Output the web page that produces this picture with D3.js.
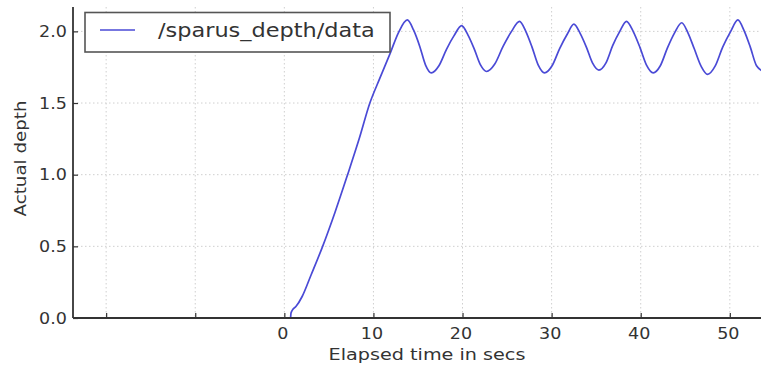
<!DOCTYPE html>
<html>
<head>
<meta charset="utf-8">
<script src="https://cdn.jsdelivr.net/npm/d3@7/dist/d3.min.js"></script>
<style>
  html, body { margin: 0; padding: 0; background: #fff; }
  svg { display: block; font-family: "DejaVu Sans", sans-serif; }
</style>
</head>
<body>
<svg id="chart" width="761" height="371"></svg>
<script>
// ---- data ----
const seriesName = "/sparus_depth/data";
const xLabel = "Elapsed time in secs";
const yLabel = "Actual depth";
const xTicks = [-20, -10, 0, 10, 20, 30, 40, 50];
const xTickLabels = ["", "", "0", "10", "20", "30", "40", "50"];
const yTicks = [0.0, 0.5, 1.0, 1.5, 2.0];
const yTickLabels = ["0.0", "0.5", "1.0", "1.5", "2.0"];
const xDomain = [-23.72, 53.5];
const yDomain = [0, 2.17];

const time = [
  0.7, 0.75, 0.9, 1.3, 2.0, 3.0, 4.3, 5.7, 7.1, 8.4, 9.6, 10.7, 11.9, 12.8, 13.8,
  14.5, 15.2, 15.85, 16.5,
  17.35, 18.2, 19.05, 19.9,
  20.6, 21.3, 22.0, 22.7,
  23.6, 24.55, 25.5, 26.4,
  27.1, 27.8, 28.5, 29.2,
  30.05, 30.9, 31.75, 32.5,
  33.2, 33.9, 34.6, 35.3,
  36.1, 36.85, 37.65, 38.4,
  39.15, 39.9, 40.65, 41.4,
  42.2, 43.0, 43.8, 44.6,
  45.3, 46.0, 46.8, 47.5,
  48.35, 49.2, 50.1, 50.9,
  51.6, 52.3, 53.0, 53.8
];
const depth = [
  0.0, 0.035, 0.055, 0.08, 0.15, 0.30, 0.50, 0.74, 1.0, 1.25, 1.5, 1.67, 1.85, 1.99, 2.08,
  2.01, 1.895, 1.765, 1.71,
  1.76, 1.875, 1.97, 2.04,
  1.976, 1.88, 1.768, 1.72,
  1.77, 1.895, 2.0, 2.07,
  2.0, 1.89, 1.764, 1.71,
  1.76, 1.88, 1.98, 2.05,
  1.986, 1.89, 1.778, 1.73,
  1.78, 1.90, 2.0, 2.07,
  2.0, 1.89, 1.764, 1.71,
  1.76, 1.885, 1.99, 2.06,
  1.99, 1.88, 1.754, 1.70,
  1.757, 1.89, 2.0, 2.08,
  2.005, 1.89, 1.76, 1.72
];

// ---- layout ----
const svg = d3.select("#chart");
const mLeft = 73, mRight = 761, mTop = 7, mBottom = 318;
const x = d3.scaleLinear().domain(xDomain).range([mLeft, mRight]);
const y = d3.scaleLinear().domain(yDomain).range([mBottom, mTop]);
const textColor = "#333";
const stretch = 1.17;

// grid
const grid = svg.append("g");
grid.selectAll("line.vx").data(xTicks).join("line")
  .attr("x1", d => x(d)).attr("x2", d => x(d))
  .attr("y1", mTop).attr("y2", mBottom)
  .attr("stroke", "#cfcfcf").attr("stroke-width", 1).attr("stroke-dasharray", "1.5,2.5");
grid.selectAll("line.hy").data(yTicks).join("line")
  .attr("x1", mLeft).attr("x2", mRight)
  .attr("y1", d => y(d)).attr("y2", d => y(d))
  .attr("stroke", "#cfcfcf").attr("stroke-width", 1).attr("stroke-dasharray", "1.5,2.5");

// clip
svg.append("clipPath").attr("id", "clip").append("rect")
  .attr("x", mLeft).attr("y", mTop - 3).attr("width", mRight - mLeft).attr("height", mBottom - mTop + 3);

// line
const pts = time.map((t, i) => [t, depth[i]]);
svg.append("path")
  .datum(pts)
  .attr("clip-path", "url(#clip)")
  .attr("fill", "none")
  .attr("stroke", "#4a4ad6")
  .attr("stroke-width", 1.7)
  .attr("stroke-linejoin", "round")
  .attr("d", d3.line().x(d => x(d[0])).y(d => y(d[1])).curve(d3.curveMonotoneX));

// axes via d3 axis
const xAxis = d3.axisBottom(x).tickValues(xTicks).tickSize(-5).tickPadding(0).tickFormat(() => "");
const gx = svg.append("g").attr("transform", `translate(0,${mBottom})`).call(xAxis);
gx.select(".domain").remove();
gx.selectAll(".tick line").attr("stroke", "#333").attr("stroke-width", 1.2);

const yAxis = d3.axisLeft(y).tickValues(yTicks).tickSize(-5).tickPadding(0).tickFormat(() => "");
const gy = svg.append("g").attr("transform", `translate(${mLeft},0)`).call(yAxis);
gy.select(".domain").remove();
gy.selectAll(".tick line").attr("stroke", "#333").attr("stroke-width", 1.2);

// spines
svg.append("line").attr("x1", mLeft).attr("x2", mLeft).attr("y1", mTop).attr("y2", mBottom)
  .attr("stroke", "#333").attr("stroke-width", 1.8);
svg.append("line").attr("x1", mLeft).attr("x2", mRight).attr("y1", mBottom).attr("y2", mBottom)
  .attr("stroke", "#333").attr("stroke-width", 1.8);

// tick labels (stretched horizontally)
svg.append("g").selectAll("text").data(xTicks.map((t, i) => [t, xTickLabels[i]]).filter(d => d[1] !== ""))
  .join("text")
  .attr("transform", d => `translate(${x(d[0]) - 1.5},339) scale(${stretch},1)`)
  .attr("text-anchor", "middle").attr("font-size", 15).attr("fill", textColor)
  .text(d => d[1]);

svg.append("g").selectAll("text").data(yTicks.map((t, i) => [t, yTickLabels[i]]))
  .join("text")
  .attr("transform", d => `translate(${mLeft - 6},${y(d[0]) + 5.5}) scale(${stretch},1)`)
  .attr("text-anchor", "end").attr("font-size", 15).attr("fill", textColor)
  .text(d => d[1]);

// axis labels
svg.append("text")
  .attr("transform", `translate(427,360) scale(1.2,1)`)
  .attr("text-anchor", "middle").attr("font-size", 16).attr("fill", textColor)
  .text(xLabel);
svg.append("text")
  .attr("transform", `translate(26,158.5) rotate(-90) scale(1.14,1)`)
  .attr("text-anchor", "middle").attr("font-size", 16).attr("fill", textColor)
  .text(yLabel);

// legend
const lg = svg.append("g");
lg.append("rect").attr("x", 85).attr("y", 12.5).attr("width", 305).attr("height", 39.5)
  .attr("fill", "#fff").attr("stroke", "#555").attr("stroke-width", 1.6);
lg.append("line").attr("x1", 100).attr("x2", 135).attr("y1", 30).attr("y2", 30)
  .attr("stroke", "#4a4ad6").attr("stroke-width", 1.7);
lg.append("text")
  .attr("transform", `translate(158,37) scale(1.18,1)`)
  .attr("font-size", 19).attr("fill", textColor)
  .text(seriesName);
</script>
</body>
</html>
